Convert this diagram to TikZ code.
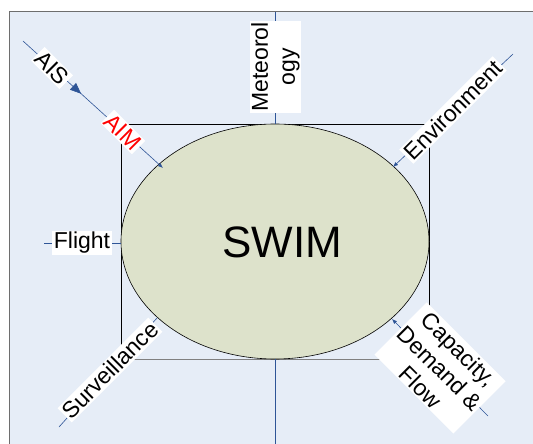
\documentclass[tikz,border=0pt]{standalone}
\usepackage{fontspec}
\setmainfont{Liberation Sans}
\usetikzlibrary{arrows.meta,decorations.markings,shapes.geometric}
\definecolor{bgblue}{HTML}{E6EDF7}
\definecolor{ellfill}{HTML}{DDE2CB}
\definecolor{lineblue}{HTML}{2E5597}
\definecolor{framegray}{HTML}{6E6E6E}
\begin{document}
\begin{tikzpicture}[x=1pt,y=-1pt,
  lbl/.style={fill=white, inner sep=1.5pt, font=\fontsize{23}{27}\selectfont, align=center},
  conn/.style={draw=lineblue, line width=0.6pt},
  tipend/.style={-{Latex[length=5pt,width=4pt]}},
  midarrow/.style={postaction={decorate}, decoration={markings, mark=at position #1 with {\arrow[lineblue]{Triangle[length=11pt,width=9pt]}}}}
]
\clip (0,0) rectangle (533,444);
\fill[white] (0,0) rectangle (533,444);
\draw[framegray, fill=bgblue, line width=1pt] (9.5,11.5) rectangle (560,470);
% inner rectangle
\draw[black, line width=0.6pt] (121,359) -- (121,124) -- (429,124) -- (429,359);
\draw[gray, line width=1.3pt] (121,359.5) -- (429,359.5);
% SWIM ellipse
\node[ellipse, draw=black, fill=ellfill, minimum width=308pt, minimum height=235pt, inner sep=0pt, line width=0.6pt] (swim) at (275,241.5) {};
\node[font=\fontsize{44}{50}\selectfont] (swimtext) at (282,242) {SWIM};
% endpoints
\coordinate (a0) at (23,41);     \coordinate (a1) at (163,168);
\coordinate (e0) at (513,54);    \coordinate (e1) at (393,167);
\coordinate (s0) at (59,427);    \coordinate (s1) at (157,318);
\coordinate (c0) at (488,416);   \coordinate (c1) at (392,319);
\coordinate (f0) at (44,243);    \coordinate (f1) at (121,243);
\coordinate (m0) at (275,12);    \coordinate (m1) at (275,124);
\coordinate (b0) at (275,359);   \coordinate (b1) at (275,450);
% connectors
\draw[conn, tipend, midarrow=0.415] (a0) -- (a1);
\draw[conn, tipend] (e0) -- (e1);
\draw[conn] (s0) -- (s1);
\draw[conn, tipend] (c0) -- (c1);
\draw[conn] (f0) -- (f1);
\draw[conn] (m0) -- (m1);
\draw[conn] (b0) -- (b1);
% labels
\node[lbl, rotate=-45] (ais) at (52,68) {AIS};
\node[lbl, rotate=-45, text=red] (aim) at (123,132) {AIM};
\node[lbl, rotate=45] (env) at (453,110) {Environment};
\node[lbl, rotate=45] (surv) at (110,370) {Surveillance};
\node[lbl, rotate=-45, minimum width=110pt] (cap) at (440,368) {Capacity,\\Demand \&\\Flow};
\node[lbl, rotate=90] (met) at (275.5,67) {Meteorol\\ogy};
\node[lbl] (flight) at (82,243) {Flight};
\end{tikzpicture}
\end{document}
